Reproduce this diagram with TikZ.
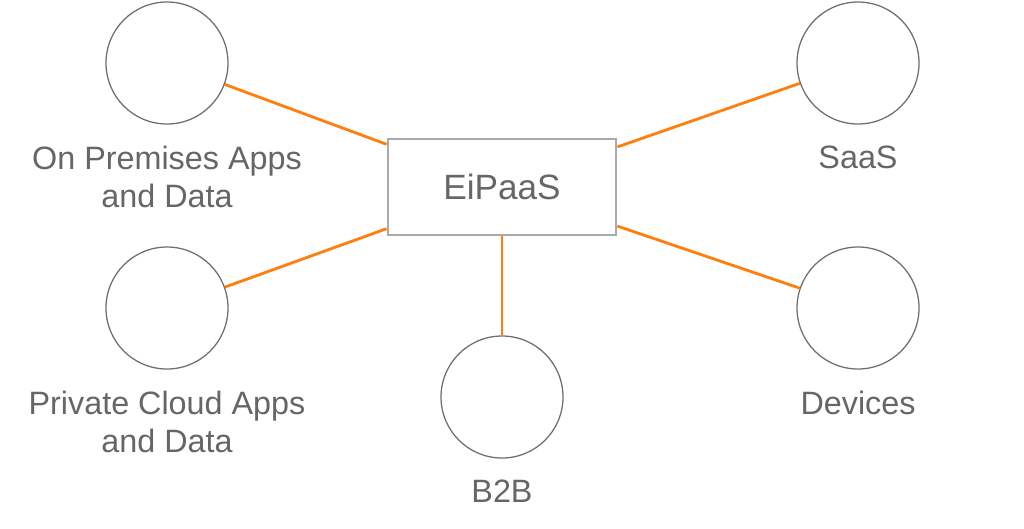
\documentclass[tikz,border=0pt]{standalone}
\usepackage{fontspec}
\setmainfont{Liberation Sans}
\definecolor{linkorange}{RGB}{255,127,14}
\definecolor{ringgray}{RGB}{110,110,110}
\definecolor{textgray}{RGB}{102,102,102}
\definecolor{boxgray}{RGB}{170,170,170}
\begin{document}
\begin{tikzpicture}[
                x=0.25mm, y=-0.25mm,
                ring/.style={draw=ringgray, line width=0.9pt, circle, minimum size=30.5mm, inner sep=0pt},
                caption/.style={text=textgray, align=center, anchor=north, inner sep=0pt,
                    font=\fontsize{23}{27}\selectfont},
                link/.style={draw=linkorange, line width=2pt}
            ]

                \useasboundingbox (0, 0) rectangle (1024, 528);

                \node (eipaas) at (502, 187) [draw=boxgray, line width=2pt, minimum width=57mm,
                    minimum height=24mm, text=textgray, font=\fontsize{25}{30}\selectfont] {EiPaaS};

                \foreach \sym/\x/\y/\txt in {onprem/167/63/{On Premises Apps\\and Data},
                        private/167/308/{Private Cloud Apps\\and Data},
                        btob/502/397/{B2B},
                        saas/858/63/{SaaS},
                        devices/858/308/{Devices}} {
                    \node (\sym) at (\x, \y) [ring] {};
                    \node (\sym-text) at ([yshift=-5.2mm]\sym.south) [caption] {\txt};
                    \draw[link] (\sym) -- (eipaas);
                }
            \end{tikzpicture}
\end{document}
